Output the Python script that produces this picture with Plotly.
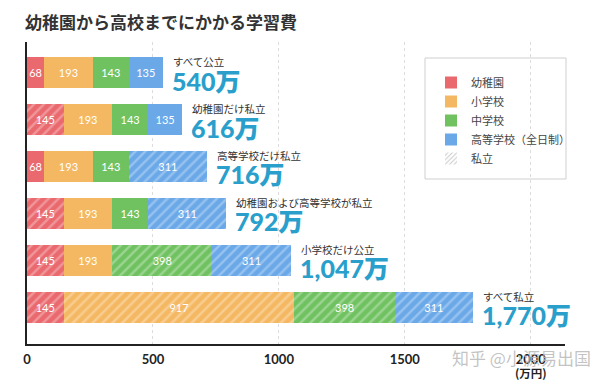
import plotly.graph_objects as go

# ---- data ----
scenarios = ["すべて公立", "幼稚園だけ私立", "高等学校だけ私立",
             "幼稚園および高等学校が私立", "小学校だけ公立", "すべて私立"]
total_labels = ["540万", "616万", "716万", "792万", "1,047万", "1,770万"]
totals = [540, 616, 716, 792, 1047, 1770]

kinder = [68, 145, 68, 145, 145, 145]
elementary = [193, 193, 193, 193, 193, 917]
junior = [143, 143, 143, 143, 398, 398]
high = [135, 135, 311, 311, 311, 311]

kinder_private = [0, 1, 0, 1, 1, 1]
elementary_private = [0, 0, 0, 0, 0, 1]
junior_private = [0, 0, 0, 0, 1, 1]
high_private = [0, 0, 1, 1, 1, 1]

series_names = ["幼稚園", "小学校", "中学校", "高等学校（全日制）"]
series_colors = ["#E9696E", "#F5B862", "#70C261", "#6AA8E8"]
private_name = "私立"

tick_vals = [0, 500, 1000, 1500, 2000]
tick_text = ["0", "500", "1000", "1500", "2000"]
unit_label = "(万円)"

title_text = "幼稚園から高校までにかかる学習費"
watermark = "知乎 @小源易出国"

# ---- figure ----
rows = list(range(len(scenarios)))
fig = go.Figure()

series_values = [kinder, elementary, junior, high]
series_private = [kinder_private, elementary_private, junior_private, high_private]

for name, vals, priv, col in zip(series_names, series_values, series_private, series_colors):
    fig.add_trace(go.Bar(
        x=vals, y=rows, orientation="h", name=name,
        marker=dict(color=col, line=dict(width=0),
                    pattern=dict(shape=["/" if p else "" for p in priv],
                                 fillmode="overlay", fgcolor="white",
                                 fgopacity=0.3, size=7, solidity=0.35)),
        width=0.65,
        text=[str(v) for v in vals], textposition="inside",
        insidetextanchor="middle", textangle=0,
        textfont=dict(color="white", size=11, family="Lato, Noto Sans CJK JP"),
        hoverinfo="skip",
    ))

# legend-only entry for private (hatched)
fig.add_trace(go.Bar(
    x=[None], y=[None], orientation="h", name=private_name,
    marker=dict(color="white", line=dict(width=0),
                pattern=dict(shape="/", fillmode="replace", fgcolor="#c8c8c8",
                             bgcolor="white", size=4, solidity=0.3)),
    hoverinfo="skip",
))

# annotations to right of bars
for i, (lab, tot, tl) in enumerate(zip(scenarios, totals, total_labels)):
    fig.add_annotation(x=tot, y=i, xref="x", yref="y", text=lab, showarrow=False,
                       xanchor="left", yanchor="middle", xshift=8, yshift=11,
                       font=dict(size=10.5, color="#333", family="Noto Sans CJK JP"))
    fig.add_annotation(x=tot, y=i, xref="x", yref="y", text=tl, showarrow=False,
                       xanchor="left", yanchor="middle", xshift=7, yshift=-8,
                       font=dict(size=25, color="#2A9FCB", family="Lato, Noto Sans CJK JP",
                                 weight=900))

W, H = 613, 382
L, R, T, B = 27, 48, 42, 38
pw, ph = W - L - R, H - T - B

def px_x(p):
    return (p - L) / pw

def px_y(p):
    return (H - B - p) / ph

# legend box
fig.add_shape(type="rect", xref="paper", yref="paper",
              x0=px_x(425), x1=px_x(566), y0=px_y(179), y1=px_y(58),
              line=dict(color="#cfcfcf", width=1), fillcolor="white", layer="below")

# watermark
fig.add_annotation(xref="paper", yref="paper", x=px_x(521), y=px_y(357),
                   text=watermark, showarrow=False, xanchor="center", yanchor="middle",
                   font=dict(size=17, color="rgba(185,185,185,0.85)", family="Noto Sans CJK SC"))

# unit label under the last tick
fig.add_annotation(xref="x", yref="paper", x=tick_vals[-1], y=px_y(373.5),
                   text=f"<b>{unit_label}</b>", showarrow=False,
                   xanchor="center", yanchor="middle",
                   font=dict(size=11.5, color="#222", family="Noto Sans CJK JP"))

fig.update_layout(
    width=W, height=H,
    margin=dict(l=L, r=R, t=T, b=B, pad=0, autoexpand=False),
    paper_bgcolor="white", plot_bgcolor="white",
    barmode="stack", bargap=0.35,
    title=dict(text=f"<b>{title_text}</b>", x=25 / W, xanchor="left",
               y=1 - 23 / H, yanchor="middle",
               font=dict(size=17, color="#333", family="Noto Sans CJK JP")),
    uniformtext=dict(minsize=11, mode="show"),
    showlegend=True,
    legend=dict(x=px_x(431), y=px_y(68), xanchor="left", yanchor="top",
                bgcolor="rgba(0,0,0,0)", borderwidth=0, traceorder="normal",
                font=dict(size=11, color="#444", family="Noto Sans CJK JP")),
    xaxis=dict(range=[0, 2136], tickvals=tick_vals, ticktext=tick_text,
               showgrid=True, gridcolor="#dcdcdc", griddash="dot", gridwidth=1,
               zeroline=False, showline=True, linecolor="#222", linewidth=1.5,
               automargin=False, ticklabelstandoff=3,
               ticks="", tickfont=dict(size=13, color="#222", family="Lato, Noto Sans CJK JP", weight="bold")),
    yaxis=dict(range=[5.78, -0.65], showticklabels=False, showgrid=False, automargin=False,
               zeroline=False, showline=True, linecolor="#222", linewidth=1.5, ticks=""),
)

fig.write_html("out.html", config={"displayModeBar": False},
               post_script="document.body.style.margin='0px';")
